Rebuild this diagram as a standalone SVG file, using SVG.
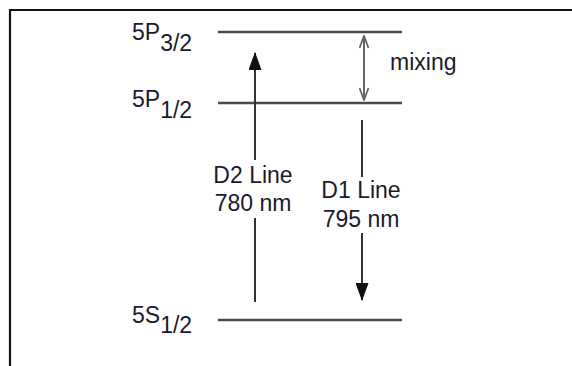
<svg xmlns="http://www.w3.org/2000/svg" width="572" height="366" viewBox="0 0 572 366">
<defs>
<style>
.t{font-family:"Liberation Sans",Arial,sans-serif;font-size:23px;fill:#1a1a2e}
.lvl{stroke:#4a4a4a;stroke-width:2.4;fill:none}
.ln{stroke:#333;stroke-width:2;fill:none}
.mix{stroke:#666;stroke-width:2;fill:none}
</style>
<marker id="solid" viewBox="0 0 18 13" refX="17" refY="6.5" markerWidth="18" markerHeight="13" markerUnits="userSpaceOnUse" orient="auto">
<path d="M0,0 L18,6.5 L0,13 Z" fill="#111"/>
</marker>
<marker id="open" viewBox="0 0 14 11" refX="13" refY="5.5" markerWidth="14" markerHeight="11" markerUnits="userSpaceOnUse" orient="auto">
<path d="M1,1 L13,5.5 L1,10" fill="none" stroke="#666" stroke-width="1.8"/>
</marker>
</defs>
<rect width="572" height="366" fill="#fff"/>
<g id="frame">
<path d="M10,366 V10 H572" stroke="#111" stroke-width="2.2" fill="none"/>
</g>
<g id="level-5P32">
<line class="lvl" x1="218" y1="32" x2="402" y2="32"/>
<text class="t" x="132" y="40">5P<tspan dy="11">3/2</tspan></text>
</g>
<g id="level-5P12">
<line class="lvl" x1="218" y1="103" x2="402" y2="103"/>
<text class="t" x="132" y="107">5P<tspan dy="11">1/2</tspan></text>
</g>
<g id="level-5S12">
<line class="lvl" x1="218" y1="320" x2="402" y2="320"/>
<text class="t" x="132" y="323">5S<tspan dy="10">1/2</tspan></text>
</g>
<g id="label-D2">
<text class="t" x="253" y="183" text-anchor="middle">D2 Line</text>
<text class="t" x="253" y="211" text-anchor="middle">780 nm</text>
</g>
<g id="label-D1">
<text class="t" x="361" y="198" text-anchor="middle">D1 Line</text>
<text class="t" x="361" y="227" text-anchor="middle">795 nm</text>
</g>
<g id="label-mixing">
<text class="t" x="390" y="70">mixing</text>
</g>
<g id="connectors">
<line class="ln" x1="255" y1="302" x2="255" y2="218"/>
<line class="ln" x1="255" y1="160" x2="255" y2="53" marker-end="url(#solid)"/>
<line class="ln" x1="362" y1="120" x2="362" y2="177"/>
<line class="ln" x1="362" y1="233" x2="362" y2="300" marker-end="url(#solid)"/>
<line class="mix" x1="364" y1="66" x2="364" y2="36" marker-end="url(#open)"/>
<line class="mix" x1="364" y1="66" x2="364" y2="100" marker-end="url(#open)"/>
</g>
</svg>
